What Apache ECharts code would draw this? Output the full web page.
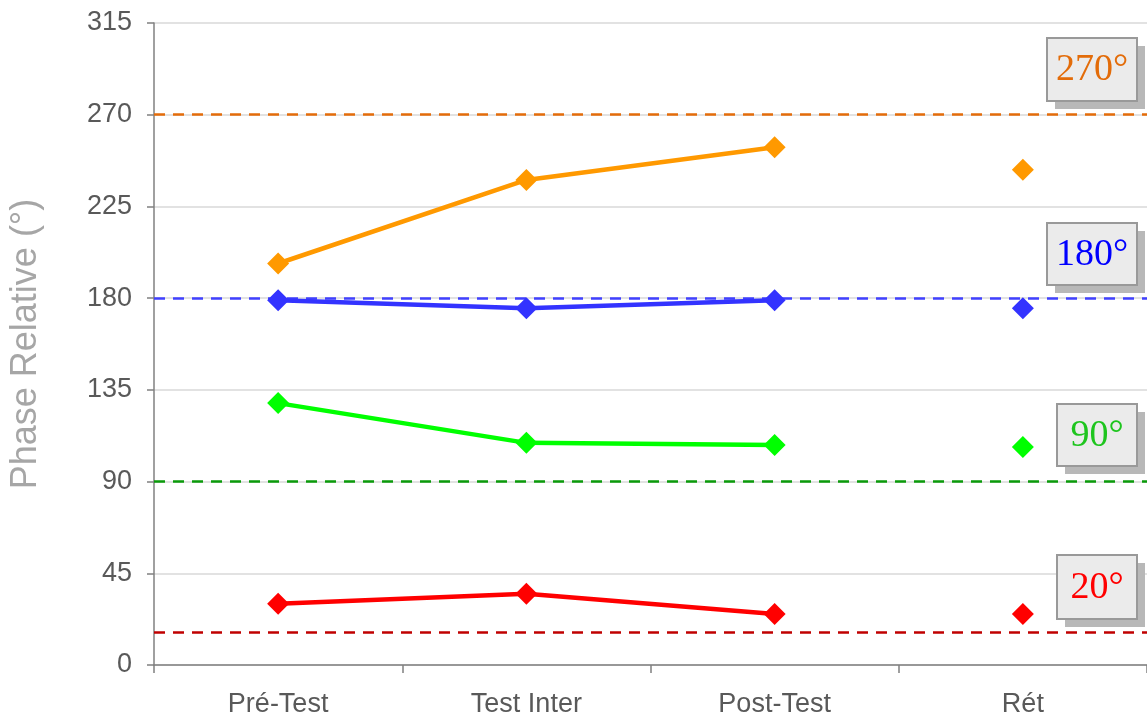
<!DOCTYPE html>
<html>
<head>
<meta charset="utf-8">
<script src="https://cdn.jsdelivr.net/npm/echarts@6/dist/echarts.min.js"></script>
<style>
  html, body { margin: 0; padding: 0; background: #fff; }
  #main { width: 1147px; height: 718px; }
</style>
</head>
<body>
<div id="main"></div>
<script>
var categories = ['Pré-Test', 'Test Inter', 'Post-Test', 'Rét'];
var yTicks = [0, 45, 90, 135, 180, 225, 270, 315];

// phase relative per condition (deg)
var phase270 = [197, 238, 254, 243];
var phase180 = [179, 175, 179, 175];
var phase90 = [128.5, 109, 108, 107];
var phase20 = [30, 35, 25, 25];

// target phase lines
var targets = [270, 180, 90, 16];
var targetLabels = ['270°', '180°', '90°', '20°'];

var lineColors = ['#FF9900', '#3333FF', '#00FF00', '#FF0000'];
var dashColors = ['#E46C0A', '#4040FF', '#0A9A0A', '#C00000'];
var textColors = ['#E36C09', '#0000FF', '#1EC51E', '#FF0000'];

var myChart = echarts.init(document.getElementById('main'));

var allSeries = [phase270, phase180, phase90, phase20];
var series = [];
allSeries.forEach(function (vals, k) {
    // first three points joined, Rét on its own
    series.push({
        type: 'line',
        data: vals.map(function (v, i) { return i < 3 ? v : null; }),
        symbol: 'diamond',
        symbolSize: 22,
        lineStyle: { color: lineColors[k], width: 4.5 },
        itemStyle: { color: lineColors[k], opacity: 1 },
        z: 3,
        markLine: {
            silent: true,
            symbol: 'none',
            label: { show: false },
            lineStyle: { color: dashColors[k], width: 2.5, type: [11, 8] },
            data: [{ yAxis: targets[k] }],
            z: 2
        }
    });
    series.push({
        type: 'scatter',
        data: vals.map(function (v, i) { return i === 3 ? v : null; }),
        symbol: 'diamond',
        symbolSize: 22,
        itemStyle: { color: lineColors[k], opacity: 1 },
        z: 3
    });
});

// label boxes on the right
var boxes = [
    { x: 1047, y: 38, w: 90, h: 63 },
    { x: 1047, y: 223, w: 90, h: 62 },
    { x: 1057, y: 404, w: 80, h: 62 },
    { x: 1057, y: 555, w: 80, h: 64 }
];
var graphic = [];
boxes.forEach(function (b, k) {
    graphic.push({
        type: 'rect', z: 10,
        shape: { x: b.x + 8, y: b.y + 8, width: b.w, height: b.h },
        style: { fill: '#b8b8b8' }
    });
    graphic.push({
        type: 'rect', z: 11,
        shape: { x: b.x, y: b.y, width: b.w, height: b.h },
        style: { fill: '#EBEBEB', stroke: '#999999', lineWidth: 2 }
    });
    graphic.push({
        type: 'text', z: 12,
        x: b.x + b.w / 2, y: b.y + b.h / 2 + 1,
        style: {
            text: targetLabels[k],
            fill: textColors[k],
            font: '38px "Liberation Serif", "DejaVu Serif", serif',
            align: 'center',
            verticalAlign: 'middle'
        }
    });
});

option = {
    backgroundColor: '#fff',
    animation: false,
    grid: { left: 153, right: -4, top: 23, bottom: 53 },
    xAxis: {
        type: 'category',
        data: categories,
        boundaryGap: true,
        axisLine: { lineStyle: { color: '#808080', width: 1.5 } },
        axisTick: { show: true, length: 8, lineStyle: { color: '#808080', width: 1.5 } },
        axisLabel: {
            color: '#595959',
            fontSize: 27,
            margin: 26,
            fontFamily: '"Liberation Sans", Arial, sans-serif'
        }
    },
    yAxis: {
        type: 'value',
        min: yTicks[0],
        max: yTicks[yTicks.length - 1],
        interval: 45,
        name: 'Phase Relative (°)',
        nameLocation: 'middle',
        nameGap: 110,
        nameTextStyle: {
            color: '#A6A6A6',
            fontSize: 36,
            fontFamily: '"Liberation Sans", Arial, sans-serif'
        },
        axisLine: { show: true, lineStyle: { color: '#808080', width: 1.5 } },
        axisTick: { show: true, length: 7, lineStyle: { color: '#808080', width: 1.5 } },
        splitLine: { show: true, lineStyle: { color: '#D9D9D9', width: 1.5 } },
        axisLabel: {
            color: '#595959',
            fontSize: 27,
            margin: 22,
            fontFamily: '"Liberation Sans", Arial, sans-serif'
        }
    },
    series: series,
    graphic: graphic
};
myChart.setOption(option);
</script>
</body>
</html>
